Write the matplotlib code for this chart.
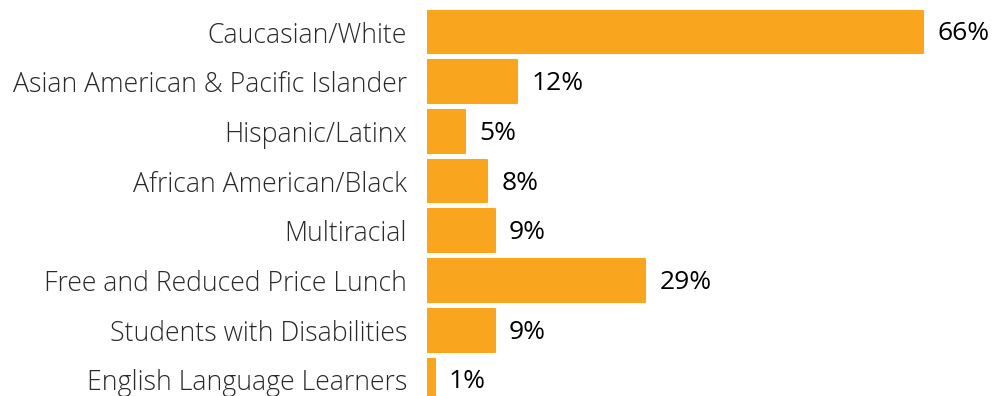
import matplotlib
matplotlib.use("Agg")
import matplotlib.pyplot as plt

categories = [
    "Caucasian/White",
    "Asian American & Pacific Islander",
    "Hispanic/Latinx",
    "African American/Black",
    "Multiracial",
    "Free and Reduced Price Lunch",
    "Students with Disabilities",
    "English Language Learners",
]
values = [66, 12, 5, 8, 9, 29, 9, 1]

bar_color = "#F9A51E"

fig = plt.figure(figsize=(10.08, 3.96), dpi=100)
ax = fig.add_axes([427 / 1008, 0, 581 / 1008, 1])

rows = list(range(len(categories)))
ax.barh(rows, values, height=0.86, color=bar_color, edgecolor=bar_color,
        linewidth=1.5, joinstyle="round")

for r, v in zip(rows, values):
    ax.text(v + 1.9, r + 0.04, f"{v}%", va="center", ha="left", fontsize=19,
            fontfamily="Open Sans", color="#000000")

ax.set_xlim(0, 581 / 7.52)
ax.set_ylim(7.324, -0.644)
ax.set_yticks(rows)
ax.set_yticklabels(categories, fontfamily="Open Sans", fontweight="light",
                   fontsize=19.2, color="#2a2a2a")
ax.tick_params(axis="y", length=0, pad=14.4)
ax.set_xticks([])
for s in ax.spines.values():
    s.set_visible(False)

fig.savefig("out.png", dpi=100)
